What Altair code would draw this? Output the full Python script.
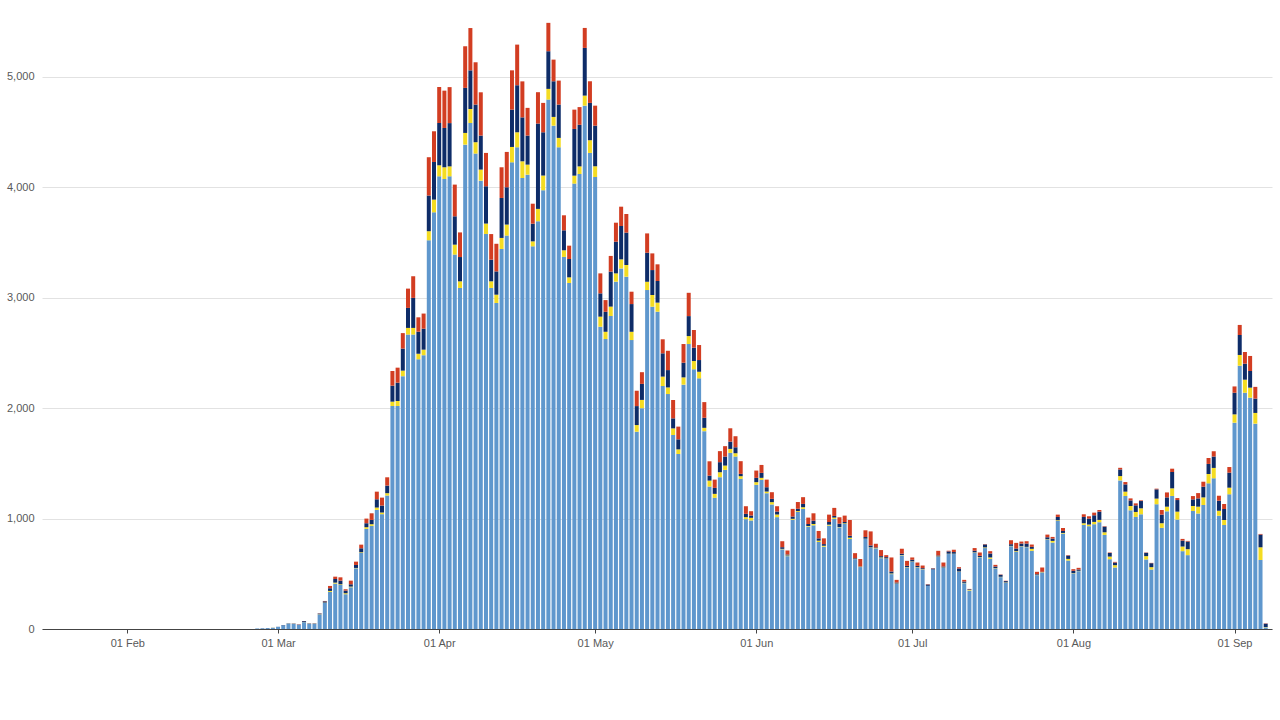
import altair as alt
import pandas as pd

# Daily values from 26 Feb 2020 onwards (stack order bottom -> top)
start_date = "2020-02-26"

england = [
    5, 6, 8, 10,
    19, 33, 47, 47, 38, 62, 46, 46, 132, 236, 336, 411, 399, 315, 378, 550, 689, 907, 934, 1079, 1040, 1209,
    2020, 2020, 2290, 2667, 2667, 2443, 2480, 3521, 3774,
    4100, 4076, 4100, 3391, 3089, 4387, 4583, 4306, 4061, 3578, 3089, 2953, 3442, 3563, 4227, 4363, 4085,
    4115, 3466, 3693, 3974, 4795, 4559, 4363, 3370, 3134, 4034, 4121, 4740, 4312,
    4094, 2738, 2626, 2835, 3146, 3266, 3191, 2617, 1787, 2000, 3070, 2919, 2874, 2201, 2128, 1757, 1585,
    2213, 2581, 2352, 2270, 1792, 1290, 1188, 1375, 1441, 1595, 1562, 1360, 995, 983,
    1306, 1351, 1230, 1128, 1013, 722, 660, 989, 1060, 1088, 927, 939, 788, 745, 936, 997, 921, 951, 815,
    633, 561, 815, 736, 730, 642, 636, 497, 409, 667, 557,
    609, 557, 539, 391, 539, 654, 554, 679, 679, 518, 415, 348, 691, 648, 733, 636, 548, 470, 419, 750,
    699, 747, 741, 708, 488, 512, 810, 783, 979, 864, 620,
    503, 524, 943, 931, 949, 967, 852, 632, 557, 1346, 1205, 1075, 1015, 1039, 630, 539, 1130, 916, 1066,
    1205, 991, 705, 669, 1069, 1046, 1123, 1319, 1365, 1026, 942, 1220,
    1869, 2385, 2140, 2095, 1860, 625, 15,
]
northern_ireland = [
    0, 0, 0, 1,
    0, 0, 1, 1, 1, 1, 1, 1, 2, 3, 9, 9, 6, 9, 6, 3, 6, 15, 15, 21, 15, 21,
    39, 45, 50, 60, 60, 50, 50, 82, 115,
    100, 106, 90, 90, 60, 106, 127, 103, 100, 94, 60, 75, 100, 100, 139, 136, 151,
    91, 45, 112, 133, 97, 79, 85, 60, 51, 72, 69, 91, 115,
    97, 91, 66, 85, 75, 82, 106, 75, 60, 75, 75, 106, 82, 85, 60, 60, 42,
    66, 72, 75, 60, 30, 54, 36, 45, 39, 36, 30, 24, 18, 24,
    24, 18, 15, 21, 24, 4, 6, 9, 8, 15, 6, 12, 12, 9, 9, 12, 3, 6, 12,
    3, 3, 3, 3, 3, 6, 3, 6, 3, 3, 3,
    3, 3, 3, 0, 0, 3, 3, 3, 3, 3, 3, 6, 3, 3, 6, 12, 3, 3, 3, 3,
    6, 3, 3, 18, 3, 3, 3, 15, 6, 6, 15,
    3, 3, 15, 15, 21, 21, 24, 24, 21, 39, 39, 39, 45, 54, 30, 21, 51, 42, 42,
    69, 72, 42, 54, 45, 62, 69, 85, 94, 45, 45, 60,
    75, 97, 118, 91, 97, 115, 3,
]
scotland = [
    0, 1, 1, 1,
    1, 3, 3, 2, 2, 8, 3, 3, 6, 12, 24, 33, 33, 24, 21, 27, 36, 36, 39, 75, 63, 69,
    145, 166, 200, 181, 272, 200, 190, 323, 341,
    383, 356, 392, 257, 220, 408, 350, 341, 308, 338, 196, 211, 362, 338, 338, 426, 398,
    263, 160, 773, 392, 341, 323, 302, 181, 166, 423, 377, 432, 338,
    368, 211, 181, 317, 287, 302, 293, 251, 172, 145, 263, 226, 196, 211, 157, 91, 91,
    133, 181, 121, 106, 91, 45, 54, 91, 82, 66, 54, 21, 30, 21,
    39, 45, 39, 30, 27, 15, 9, 21, 21, 30, 18, 30, 21, 15, 24, 15, 30, 12, 18,
    6, 3, 15, 18, 6, 12, 12, 18, 9, 12, 12,
    15, 12, 9, 12, 9, 9, 9, 21, 15, 27, 12, 6, 15, 12, 27, 36, 15, 18, 12, 15,
    24, 24, 30, 18, 6, 3, 18, 21, 30, 18, 30,
    21, 12, 57, 54, 60, 75, 51, 33, 24, 60, 66, 51, 60, 66, 30, 36, 84, 78, 84,
    148, 105, 54, 69, 60, 75, 97, 91, 103, 91, 100, 136,
    196, 181, 145, 151, 130, 115, 30,
]
wales = [
    0, 0, 0, 0,
    0, 0, 0, 1, 1, 1, 1, 1, 2, 3, 21, 21, 30, 12, 33, 30, 33, 42, 60, 69, 72, 75,
    133, 136, 140, 175, 196, 130, 137, 347, 278,
    326, 338, 326, 287, 223, 377, 383, 383, 392, 302, 232, 250, 278, 320, 356, 368, 326,
    251, 181, 284, 266, 257, 196, 217, 136, 121, 175, 160, 181, 196,
    181, 181, 106, 142, 172, 175, 169, 112, 139, 106, 175, 151, 151, 127, 175, 166, 115,
    169, 211, 160, 136, 142, 130, 75, 100, 94, 121, 100, 115, 69, 39,
    66, 72, 69, 60, 48, 54, 36, 69, 61, 61, 58, 67, 67, 52, 67, 73, 58, 58, 142,
    45, 67, 61, 127, 33, 55, 18, 127, 24, 45, 45,
    21, 30, 24, 3, 3, 42, 36, 6, 21, 12, 15, 3, 24, 30, 3, 21, 15, 3, 3, 36,
    51, 18, 21, 21, 21, 39, 24, 15, 21, 27, 4,
    15, 15, 24, 21, 24, 15, 4, 4, 6, 15, 21, 18, 18, 6, 3, 3, 6, 42, 45,
    30, 18, 15, 6, 30, 48, 45, 54, 48, 45, 45, 51,
    57, 91, 106, 136, 106, 6, 3,
]

nations = ["England", "Northern Ireland", "Scotland", "Wales"]
colors = ["#5f97cd", "#f4dc22", "#0e2c68", "#d23d22"]

dates = pd.date_range(start_date, periods=len(england), freq="D").strftime("%Y-%m-%dT00:00:00")

rows = []
for k, (name, series) in enumerate(zip(nations, [england, northern_ireland, scotland, wales])):
    for d, v in zip(dates, series):
        rows.append({"date": d, "nation": name, "cases": v, "ord": k})
df = pd.DataFrame(rows)

month_ticks = [alt.DateTime(year=2020, month=m, date=1) for m in range(2, 10)]

chart = (
    alt.Chart(df)
    .mark_bar(width=4)
    .encode(
        x=alt.X(
            "date:T",
            title=None,
            scale=alt.Scale(
                domain=[
                    alt.DateTime(year=2020, month=1, date=15, hours=14, minutes=10),
                    alt.DateTime(year=2020, month=9, date=8, hours=5),
                ],
                padding=0,
            ),
            axis=alt.Axis(
                values=month_ticks,
                format="%d %b",
                grid=False,
                domainColor="#444444",
                tickColor="#444444",
                tickSize=4,
                labelPadding=4,
                labelColor="#595959",
                labelFont="Liberation Sans",
                labelFontSize=11,
            ),
        ),
        y=alt.Y(
            "cases:Q",
            stack="zero",
            title=None,
            scale=alt.Scale(domain=[0, 5697], nice=False),
            axis=alt.Axis(
                values=[0, 1000, 2000, 3000, 4000, 5000],
                format=",.0f",
                domain=False,
                ticks=False,
                gridColor="#e2e2e2",
                labelPadding=8,
                labelColor="#595959",
                labelFont="Liberation Sans",
                labelFontSize=11,
            ),
        ),
        color=alt.Color(
            "nation:N",
            scale=alt.Scale(domain=nations, range=colors),
            legend=None,
        ),
        order=alt.Order("ord:Q", sort="ascending"),
    )
    .properties(
        width=1230,
        height=629,
        padding={"left": 42, "top": 0, "right": 8, "bottom": 91},
        autosize=alt.AutoSizeParams(type="none"),
        background="white",
    )
    .configure_view(stroke=None)
)

chart.save("out.html", embed_options={"renderer": "svg", "actions": False})
